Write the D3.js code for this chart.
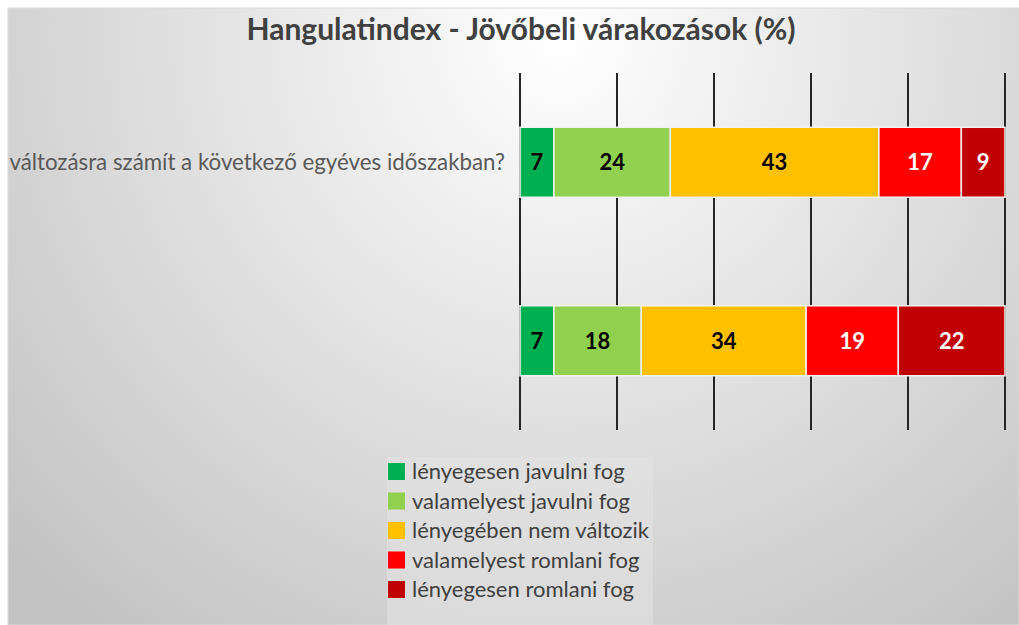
<!DOCTYPE html>
<html>
<head>
<meta charset="utf-8">
<script src="https://cdn.jsdelivr.net/npm/d3@7"></script>
<style>
html,body{margin:0;padding:0;background:#fff;}
svg{display:block;}
text{font-family:Lato,"Open Sans",sans-serif;}
</style>
</head>
<body>
<svg id="chart" width="1019" height="625"></svg>
<script>
const title = "Hangulatindex - Jövőbeli várakozások (%)";
const categories = ["változásra számít a következő egyéves időszakban?", ""];
const seriesNames = ["lényegesen javulni fog", "valamelyest javulni fog", "lényegében nem változik", "valamelyest romlani fog", "lényegesen romlani fog"];
const seriesColors = ["#00b050", "#92d050", "#ffc000", "#ff0000", "#c00000"];
const labelColors = ["#000", "#000", "#000", "#fff", "#fff"];
const s1 = [7, 7];
const s2 = [24, 18];
const s3 = [43, 34];
const s4 = [17, 19];
const s5 = [9, 22];
const gridTicks = [0, 20, 40, 60, 80, 100];

const series = [s1, s2, s3, s4, s5];
const rows = categories.map((c, i) => {
  const o = {cat: c, idx: i};
  seriesNames.forEach((n, j) => o[n] = series[j][i]);
  return o;
});
const stacked = d3.stack().keys(seriesNames)(rows);

const svg = d3.select("#chart");
const defs = svg.append("defs");
const grad = defs.append("radialGradient").attr("id", "bg")
  .attr("gradientUnits", "userSpaceOnUse")
  .attr("cx", 560).attr("cy", 40).attr("r", 760)
  .attr("fx", 560).attr("fy", 40);
grad.append("stop").attr("offset", "0%").attr("stop-color", "#ffffff");
grad.append("stop").attr("offset", "100%").attr("stop-color", "#c2c2c2");
defs.append("clipPath").attr("id", "area").append("rect")
  .attr("x", 8).attr("y", 8).attr("width", 1011).attr("height", 617);

svg.append("rect").attr("x", 8).attr("y", 8).attr("width", 1019 - 8).attr("height", 625 - 8)
  .attr("fill", "url(#bg)").attr("stroke", "#d9d9d9").attr("stroke-width", 1);

svg.append("text").attr("x", 521).attr("y", 40).attr("text-anchor", "middle")
  .attr("font-size", 30).attr("font-weight", "bold").attr("fill", "#404040").text(title);

const x = d3.scaleLinear().domain([0, 100]).range([520, 1005]);
const y = d3.scaleBand().domain(d3.range(categories.length)).range([73, 430])
  .paddingInner(0.608).paddingOuter(0.304);

// gridlines
svg.append("g").selectAll("line").data(gridTicks).join("line")
  .attr("x1", d => x(d)).attr("x2", d => x(d))
  .attr("y1", 73).attr("y2", 430)
  .attr("stroke", "#262626").attr("stroke-width", 2);

// bars
const g = svg.append("g");
stacked.forEach((layer, j) => {
  g.append("g").selectAll("rect").data(layer).join("rect")
    .attr("x", d => x(d[0]))
    .attr("y", (d, i) => y(i))
    .attr("width", d => x(d[1]) - x(d[0]))
    .attr("height", y.bandwidth())
    .attr("fill", seriesColors[j])
    .attr("stroke", "#f2f2f2").attr("stroke-width", 1.5);
  g.append("g").selectAll("text").data(layer).join("text")
    .attr("x", d => (x(d[0]) + x(d[1])) / 2)
    .attr("y", (d, i) => y(i) + y.bandwidth() / 2)
    .attr("dy", "0.36em")
    .attr("text-anchor", "middle")
    .attr("font-size", 22).attr("font-weight", "bold")
    .attr("fill", labelColors[j])
    .text(d => d[1] - d[0]);
});

// category labels
svg.append("g").attr("clip-path", "url(#area)").selectAll("text").data(categories).join("text")
  .attr("x", 505)
  .attr("y", (d, i) => y(i) + y.bandwidth() / 2)
  .attr("dy", "0.36em")
  .attr("text-anchor", "end")
  .attr("font-size", 22.3).attr("fill", "#595959")
  .text(d => d);

// legend
const lg = svg.append("g");
lg.append("rect").attr("x", 387).attr("y", 457).attr("width", 266).attr("height", 168)
  .attr("fill", "#e2e2e2").attr("fill-opacity", 0.6);
const items = lg.selectAll("g").data(seriesNames).join("g")
  .attr("transform", (d, i) => `translate(387, ${471.5 + i * 29.5})`);
items.append("rect").attr("x", 1).attr("y", -8.5).attr("width", 17).attr("height", 17)
  .attr("fill", (d, i) => seriesColors[i]);
items.append("text").attr("x", 25).attr("dy", "0.36em")
  .attr("font-size", 22).attr("fill", "#404040").text(d => d);
</script>
</body>
</html>
